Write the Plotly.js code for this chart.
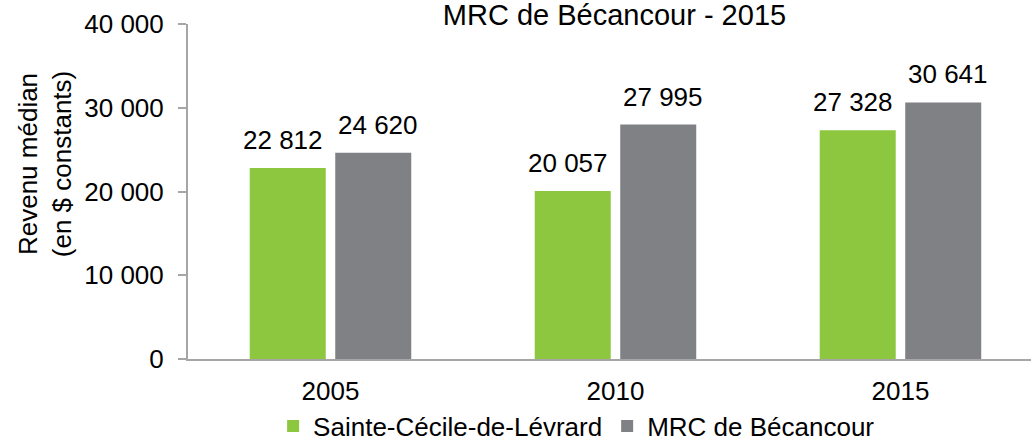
<!DOCTYPE html>
<html>
<head>
<meta charset="utf-8">
<script src="https://cdn.plot.ly/plotly-3.0.1.min.js"></script>
<style>html,body{margin:0;padding:0;background:#fff}#chart{width:1031px;height:444px}</style>
</head>
<body>
<div id="chart"></div>
<script>
const years = ['2005', '2010', '2015'];
const seriesNames = ['Sainte-Cécile-de-Lévrard', 'MRC de Bécancour'];
const sainteCecile = [22812, 20057, 27328];
const mrcBecancour = [24620, 27995, 30641];
const yTicks = [0, 10000, 20000, 30000, 40000];
const chartTitle = 'MRC de Bécancour - 2015';
const yTitle = 'Revenu médian<br>(en $ constants)';

const FONT = '"Liberation Sans", Arial, sans-serif';
const FS = 26;
const colors = ['#8DC63F', '#808184'];
const allSeries = [sainteCecile, mrcBecancour];

function fmt(v) {
  const s = String(v);
  return s.length > 3 ? s.slice(0, s.length - 3) + ' ' + s.slice(-3) : s;
}

const traces = allSeries.map((vals, i) => ({
  type: 'bar',
  name: seriesNames[i],
  x: years,
  y: vals,
  marker: {color: colors[i]},
  hoverinfo: 'y'
}));

const shifts = [-47.5, 47.5];
const annotations = [];
allSeries.forEach((vals, i) => {
  vals.forEach((v, j) => {
    annotations.push({
      x: j, y: v, xref: 'x', yref: 'y',
      text: fmt(v),
      showarrow: false, xshift: shifts[i], yshift: 11, xanchor: 'center', yanchor: 'bottom',
      font: {family: FONT, size: FS, color: '#000'}
    });
  });
});
annotations.push({
  xref: 'paper', yref: 'paper', x: -0.17, y: 0.5, yshift: 27,
  xanchor: 'center', yanchor: 'middle',
  text: yTitle, textangle: -90, showarrow: false,
  font: {family: FONT, size: FS, color: '#000'}
});

const layout = {
  width: 1031, height: 444,
  margin: {l: 188, r: 0, t: 24, b: 85, autoexpand: false},
  paper_bgcolor: '#fff', plot_bgcolor: '#fff',
  separators: ', ',
  font: {family: FONT, size: FS, color: '#000'},
  title: {
    text: chartTitle, x: 0.596, xanchor: 'center',
    yref: 'container', y: 1, yanchor: 'top', pad: {t: 5},
    font: {family: FONT, size: 29, color: '#000'}
  },
  barmode: 'group', bargap: 0.4, bargroupgap: 0.111,
  xaxis: {
    type: 'category', range: [-0.5, 2.458],
    showline: true, linecolor: '#A6A6A6', linewidth: 2,
    ticks: '', showgrid: false, zeroline: false, ticklabelstandoff: 8,
    tickfont: {family: FONT, size: FS, color: '#000'}
  },
  yaxis: {
    range: [0, 40000], tickvals: yTicks, tickformat: ',d',
    showline: true, linecolor: '#A6A6A6', linewidth: 2,
    ticks: 'outside', ticklen: 8, tickcolor: '#A6A6A6', tickwidth: 2,
    showgrid: false, zeroline: false, ticklabelstandoff: 9,
    tickfont: {family: FONT, size: FS, color: '#000'}
  },
  legend: {
    orientation: 'h', x: 0.461, xanchor: 'center',
    yref: 'container', y: 0.0405, yanchor: 'middle',
    font: {family: FONT, size: FS, color: '#000'}
  },
  showlegend: true,
  annotations: annotations
};

Plotly.newPlot('chart', traces, layout, {displayModeBar: false, staticPlot: true});
</script>
</body>
</html>
